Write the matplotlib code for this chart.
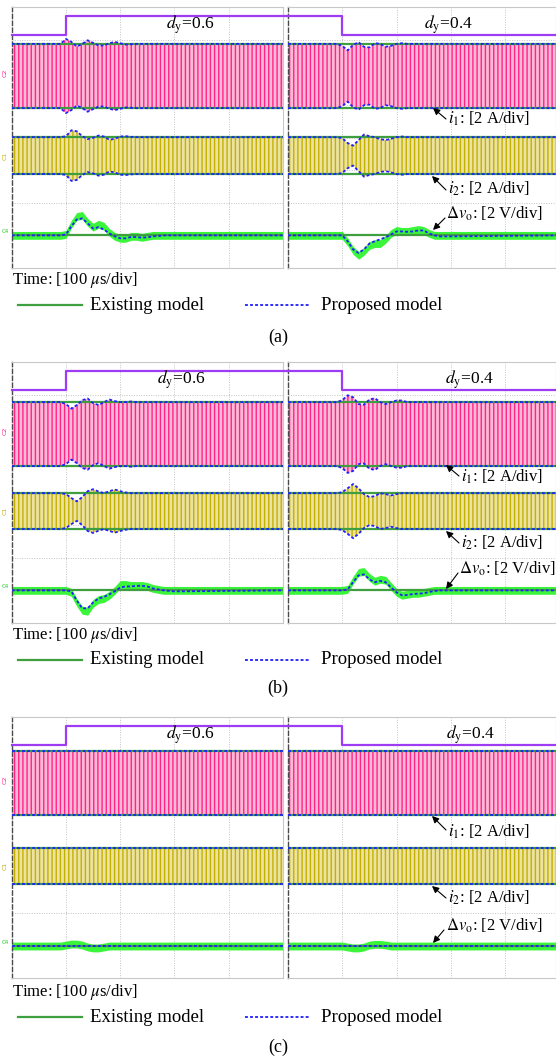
import matplotlib
matplotlib.use("Agg")
import numpy as np
import matplotlib.pyplot as plt
from matplotlib.lines import Line2D
from matplotlib.patches import FancyArrowPatch

plt.rcParams["font.family"] = ["Liberation Serif", "DejaVu Serif"]
plt.rcParams["mathtext.fontset"] = "stix"
plt.rcParams["hatch.linewidth"] = 1.0

# ---------------------------------------------------------------------------
# Data (time in microseconds from the left edge of each capture,
# vertical values in screen divisions; 2 A/div for currents, 2 V/div for vo)
# ---------------------------------------------------------------------------
T_US = [0, 90, 100, 110, 120, 130, 140, 150, 160, 170, 180, 190, 200,
        210, 220, 230, 240, 250, 260, 270, 280, 300, 500]

DUTY_T = [0, 100, 500]
DUTY_UP = [0.4, 0.6, 0.6]      # d_y: 0.4 -> 0.6
DUTY_DOWN = [0.6, 0.4, 0.4]    # d_y: 0.6 -> 0.4

# steady-state envelope levels for panels (a), (b), (c)
I1_TOP = [6.87, 6.77, 6.96]
I1_BOT = [4.90, 4.81, 4.99]
I2_TOP = [4.01, 3.98, 3.98]
I2_BOT = [2.88, 2.88, 2.88]
VO_BASE = [1.00, 1.00, 0.98]

# envelope deviation after the step (positive = wider band), panel (a)
A_L_I1 = [0, 0, 0.15, 0.06, -0.08, 0.00, 0.11, 0.03, -0.05, -0.05, 0.02, 0.06,
          0.02, -0.02, -0.01, 0, 0, 0, 0, 0, 0, 0, 0]
A_L_I2 = [0, 0, 0.03, 0.21, 0.18, 0.03, -0.06, -0.02, 0.05, 0.02, -0.08, -0.05,
          0.02, 0.03, 0.01, 0, 0, 0, 0, 0, 0, 0, 0]
A_L_VO_MODEL = [0, 0, 0.03, 0.28, 0.49, 0.52, 0.37, 0.21, 0.25, 0.18, 0.06, -0.03,
                -0.09, -0.09, -0.05, -0.05, -0.07, -0.06, -0.03, -0.02, 0, 0, 0]
A_L_VO_MEAS = [0, 0, 0.03, 0.34, 0.58, 0.61, 0.40, 0.25, 0.34, 0.28, 0.09, -0.03,
               -0.09, -0.09, -0.03, -0.03, -0.06, -0.03, 0, 0, 0, 0, 0]
A_R_I1 = [0, 0, -0.06, -0.20, -0.03, 0.05, -0.09, -0.11, 0.02, 0.00, -0.09, -0.06,
          0.00, 0.02, 0, 0, 0, 0, 0, 0, 0, 0, 0]
A_R_I2 = [0, 0, -0.03, -0.18, -0.26, -0.09, 0.08, 0.03, 0.00, -0.06, -0.09, -0.05,
          0.00, 0.02, 0, 0, 0, 0, 0, 0, 0, 0, 0]
A_R_VO_MODEL = [0, 0, 0, -0.18, -0.43, -0.54, -0.43, -0.25, -0.18, -0.12, -0.06, 0.03,
                0.12, 0.12, 0.11, 0.12, 0.15, 0.15, 0.06, 0.00, -0.03, -0.03, 0]
A_R_VO_MEAS = [0, 0, 0, -0.20, -0.46, -0.61, -0.49, -0.31, -0.25, -0.25, -0.12, 0.06,
               0.15, 0.12, 0.12, 0.15, 0.18, 0.15, 0.06, 0.00, 0, 0, 0]

# panel (b)
B_L_I1 = [0, 0, -0.06, -0.20, -0.09, 0.06, 0.11, -0.03, -0.09, 0.00, 0.08, 0.03,
          0.00, 0.00, 0.02, 0, 0, 0, 0, 0, 0, 0, 0]
B_L_I2 = [0, 0, -0.03, -0.15, -0.25, -0.12, 0.06, 0.12, 0.05, 0.00, 0.06, 0.11,
          0.06, 0.02, 0, 0, 0, 0, 0, 0, 0, 0, 0]
B_L_VO_MODEL = [0, 0, 0, -0.03, -0.31, -0.55, -0.55, -0.37, -0.25, -0.20, -0.12, -0.03,
                0.09, 0.12, 0.12, 0.14, 0.14, 0.12, 0.06, 0.03, 0.00, -0.03, 0]
B_L_VO_MEAS = [0, 0, 0, -0.06, -0.37, -0.61, -0.64, -0.40, -0.28, -0.25, -0.15, 0.00,
               0.18, 0.18, 0.15, 0.15, 0.15, 0.12, 0.06, 0.03, 0, 0, 0]
B_R_I1 = [0, 0, 0.06, 0.21, 0.15, -0.06, -0.08, 0.08, 0.12, 0.00, -0.06, 0.00,
          0.05, 0.05, 0, 0, 0, 0, 0, 0, 0, 0, 0]
B_R_I2 = [0, 0, 0.03, 0.15, 0.28, 0.15, -0.03, -0.12, -0.09, 0.00, -0.03, -0.07,
          -0.03, 0, 0, 0, 0, 0, 0, 0, 0, 0, 0]
B_R_VO_MODEL = [0, 0, 0, 0.03, 0.25, 0.46, 0.49, 0.34, 0.25, 0.29, 0.25, 0.09,
                -0.06, -0.15, -0.14, -0.11, -0.10, -0.09, -0.05, -0.02, 0, 0, 0]
B_R_VO_MEAS = [0, 0, 0, 0.03, 0.31, 0.55, 0.58, 0.40, 0.28, 0.34, 0.31, 0.12,
               -0.06, -0.15, -0.12, -0.09, -0.09, -0.06, -0.03, 0.00, 0, 0, 0]

# panel (c)
C_FLAT = [0, 0, 0, 0, 0, 0, 0, 0, 0, 0, 0, 0, 0, 0, 0, 0, 0, 0, 0, 0, 0, 0, 0]
C_L_VO_MEAS = [0, 0, 0.03, 0.06, 0.06, 0.03, -0.03, -0.06, -0.06, -0.03, 0, 0,
               0, 0, 0, 0, 0, 0, 0, 0, 0, 0, 0]
C_R_VO_MEAS = [0, 0, 0, -0.03, -0.06, -0.06, -0.03, 0.03, 0.05, 0.05, 0.03, 0,
               0, 0, 0, 0, 0, 0, 0, 0, 0, 0, 0]

PANELS = [
    dict(left=(A_L_I1, A_L_I2, A_L_VO_MODEL, A_L_VO_MEAS),
         right=(A_R_I1, A_R_I2, A_R_VO_MODEL, A_R_VO_MEAS)),
    dict(left=(B_L_I1, B_L_I2, B_L_VO_MODEL, B_L_VO_MEAS),
         right=(B_R_I1, B_R_I2, B_R_VO_MODEL, B_R_VO_MEAS)),
    dict(left=(C_FLAT, C_FLAT, C_FLAT, C_L_VO_MEAS),
         right=(C_FLAT, C_FLAT, C_FLAT, C_R_VO_MEAS)),
]
CAPTIONS = ["(a)", "(b)", "(c)"]

# ---------------------------------------------------------------------------
# Layout (pixel geometry of the figure)
# ---------------------------------------------------------------------------
W, H = 556, 1057
PANEL_TOP = [7, 362, 717]
PANEL_H = 261
LEFT_X = (11.7, 283.0)
RIGHT_X = (288.0, 556.0)
DIV_PX = (LEFT_X[1] - LEFT_X[0]) / 5.0

PURPLE = "#9d3cf2"
PINK_LINE, PINK_FILL = "#ff2288", "#ffbad8"
YEL_LINE, YEL_FILL = "#c4b000", "#ece3a2"
VO_GREEN = "#3af53a"
MODEL_GREEN = "#3f9f3f"
MODEL_BLUE = "#1f1fff"

fig = plt.figure(figsize=(W / 100, H / 100), dpi=100)


def fx(x):
    return x / W


def fy(y):
    return 1 - y / H


def add_capture(x0, x1, top, k, traces, duty):
    xmax = (x1 - x0) / DIV_PX * 100
    ax = fig.add_axes([fx(x0), fy(top + PANEL_H), (x1 - x0) / W, PANEL_H / H])
    ax.set_xlim(0, xmax)
    ax.set_ylim(0, 8)
    ax.set_xticks(np.arange(0, xmax + 1, 100))
    ax.set_yticks(np.arange(0, 9, 1))
    ax.tick_params(length=0, labelbottom=False, labelleft=False)
    ax.grid(True, color="#c4c4c4", lw=0.7, ls=(0, (1, 1.5)))
    ax.set_axisbelow(True)
    for side in ("top", "right", "bottom"):
        ax.spines[side].set_color("#c8c8c8")
        ax.spines[side].set_linewidth(0.8)
    ax.spines["left"].set_color("#4a4a4a")
    ax.spines["left"].set_linewidth(1.0)
    ax.spines["left"].set_linestyle((0, (3, 2)))

    t = np.array(T_US, dtype=float)
    i1_dev, i2_dev, vo_model, vo_meas = (np.array(v, dtype=float) for v in traces)

    # measured inductor currents (dense switching ripple)
    ax.fill_between(t, I1_BOT[k] - i1_dev, I1_TOP[k] + i1_dev,
                    facecolor=PINK_FILL, edgecolor=PINK_LINE, hatch="||||",
                    linewidth=0, zorder=2)
    ax.fill_between(t, I2_BOT[k] - i2_dev, I2_TOP[k] + i2_dev,
                    facecolor=YEL_FILL, edgecolor=YEL_LINE, hatch="||||",
                    linewidth=0, zorder=2)
    # measured output voltage with its switching noise
    ax.fill_between(t, VO_BASE[k] + vo_meas - 0.12, VO_BASE[k] + vo_meas + 0.12,
                    color=VO_GREEN, linewidth=0, zorder=2)

    # existing model: flat envelopes
    for lvl in (I1_TOP[k], I1_BOT[k], I2_TOP[k], I2_BOT[k], VO_BASE[k]):
        ax.plot([0, xmax], [lvl, lvl], color=MODEL_GREEN, lw=1.6, zorder=3)

    # proposed model
    dots = (0, (1.6, 1.2))
    ax.plot(t, I1_TOP[k] + i1_dev, color=MODEL_BLUE, lw=1.3, ls=dots, zorder=4)
    ax.plot(t, I1_BOT[k] - i1_dev, color=MODEL_BLUE, lw=1.3, ls=dots, zorder=4)
    ax.plot(t, I2_TOP[k] + i2_dev, color=MODEL_BLUE, lw=1.3, ls=dots, zorder=4)
    ax.plot(t, I2_BOT[k] - i2_dev, color=MODEL_BLUE, lw=1.3, ls=dots, zorder=4)
    ax.plot(t, VO_BASE[k] + vo_model, color=MODEL_BLUE, lw=1.3, ls=dots, zorder=4)

    # duty-cycle step
    d = np.array(duty)
    dt = np.array(DUTY_T, dtype=float)
    dt[-1] = xmax + 10
    ax.plot(dt, 7.13 + (d - 0.4) / 0.2 * 0.59, color=PURPLE, lw=1.6,
            drawstyle="steps-post", zorder=3, clip_on=False)
    return ax


DY_LEFT = [(190, 25), (181, 380), (190, 735)]
DY_RIGHT = [(448, 25), (469, 380), (470, 735)]
LBL_I1 = [(448, 119), (461, 477), (448, 832)]
LBL_I2 = [(448, 189), (461, 543), (448, 898)]
LBL_VO = [(446, 214), (459, 569), (446, 926)]
HEAD_I1 = [(433, 108), (446, 465), (432, 816)]
HEAD_I2 = [(432, 176), (446, 531), (432, 886)]
HEAD_VO = [(433, 230), (446, 589), (433, 943)]
TAIL_I1 = [(446, 119), (459, 476), (446, 830)]
TAIL_I2 = [(446, 190), (459, 543), (446, 898)]
TAIL_VO = [(445, 218), (458, 573), (444, 930)]
TIME_Y = [280, 635, 992]
LEGEND_Y = [305, 660, 1017]
CAPTION_Y = [337, 688, 1047]

for k, panel in enumerate(PANELS):
    top = PANEL_TOP[k]
    add_capture(LEFT_X[0], LEFT_X[1], top, k, panel["left"], DUTY_UP)
    add_capture(RIGHT_X[0], RIGHT_X[1], top, k, panel["right"], DUTY_DOWN)

    def div_to_px(v):
        return top + (8 - v) * PANEL_H / 8

    # channel tags on the left edge
    fig.text(fx(5), fy(div_to_px((I1_TOP[k] + I1_BOT[k]) / 2 + 0.1)), "C2",
             color=PINK_LINE, fontsize=4.5, rotation=90, ha="center", va="center",
             family="DejaVu Sans")
    fig.text(fx(5), fy(div_to_px((I2_TOP[k] + I2_BOT[k]) / 2)), "C1",
             color=YEL_LINE, fontsize=4.5, rotation=90, ha="center", va="center",
             family="DejaVu Sans")
    fig.text(fx(5), fy(div_to_px(VO_BASE[k]) - 4), "C4",
             color="#22cc22", fontsize=4, ha="center", va="center",
             family="DejaVu Sans")

    fig.text(fx(DY_LEFT[k][0]), fy(DY_LEFT[k][1]), r"$d_{\mathrm{y}}$=0.6",
             fontsize=12.5, ha="center", va="center")
    fig.text(fx(DY_RIGHT[k][0]), fy(DY_RIGHT[k][1]), r"$d_{\mathrm{y}}$=0.4",
             fontsize=12.5, ha="center", va="center")

    for label, pos, head, tail in (
            (r"$i_1$: [2 A/div]", LBL_I1[k], HEAD_I1[k], TAIL_I1[k]),
            (r"$i_2$: [2 A/div]", LBL_I2[k], HEAD_I2[k], TAIL_I2[k]),
            (r"$\Delta v_{\mathrm{o}}$: [2 V/div]", LBL_VO[k], HEAD_VO[k], TAIL_VO[k])):
        fig.text(fx(pos[0]), fy(pos[1]), label, fontsize=12, ha="left", va="center")
        fig.add_artist(FancyArrowPatch(
            (fx(tail[0]), fy(tail[1])), (fx(head[0]), fy(head[1])),
            transform=fig.transFigure, arrowstyle="-|>", mutation_scale=10,
            color="black", lw=0.8, shrinkA=0, shrinkB=0))

    fig.text(fx(12), fy(TIME_Y[k]), r"Time: [100 $\mu$s/div]", fontsize=12,
             ha="left", va="center")

    ly = fy(LEGEND_Y[k])
    fig.add_artist(Line2D([fx(18), fx(82)], [ly, ly], transform=fig.transFigure,
                          color=MODEL_GREEN, lw=1.6))
    fig.text(fx(90), ly, "Existing model", fontsize=13.5, ha="left", va="center")
    fig.add_artist(Line2D([fx(245), fx(309)], [ly, ly], transform=fig.transFigure,
                          color=MODEL_BLUE, lw=1.3, ls=(0, (1.6, 1.2))))
    fig.text(fx(321), ly, "Proposed model", fontsize=13.5, ha="left", va="center")

    fig.text(fx(278), fy(CAPTION_Y[k]), CAPTIONS[k], fontsize=13,
             ha="center", va="center")

fig.savefig("out.png", dpi=100)
